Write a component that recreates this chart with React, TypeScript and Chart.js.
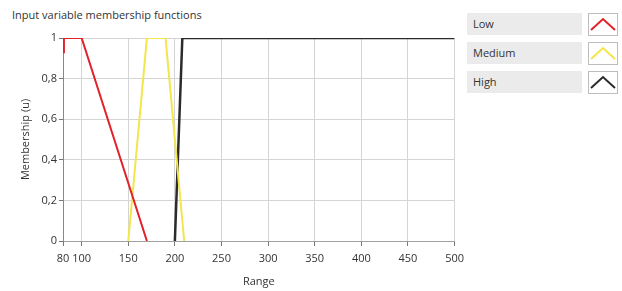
import React, { useEffect, useRef } from "react";
import { Chart, registerables } from "chart.js";

Chart.register(...registerables);

const xTicks = [80, 100, 150, 200, 250, 300, 350, 400, 450, 500];
const yTicks = [0, 0.2, 0.4, 0.6, 0.8, 1];

const seriesNames = ["Low", "Medium", "High"];
const seriesColors = ["#e3212b", "#f2e64a", "#2b2b2b"];

const lowX = [80, 81, 100, 170];
const lowY = [0.93, 1, 1, 0];
const mediumX = [150, 170, 190, 210];
const mediumY = [0, 1, 1, 0];
const highX = [200, 208, 500];
const highY = [0, 1, 1];

const FONT = "'Open Sans', 'DejaVu Sans', sans-serif";

function pts(xs: number[], ys: number[]) {
  return xs.map((x, i) => ({ x, y: ys[i] }));
}

function LegendIcon({ color }: { color: string }) {
  return (
    <svg width={30} height={23} style={{ display: "block" }}>
      <rect x={0.5} y={0.5} width={29} height={22} fill="#fff" stroke="#bdbdbd" />
      <polyline points="3,17 15,6 27,17" fill="none" stroke={color} strokeWidth={2} />
    </svg>
  );
}

export default function App() {
  const ref = useRef<HTMLCanvasElement | null>(null);

  useEffect(() => {
    if (!ref.current) return;
    const datasets = [
      pts(lowX, lowY),
      pts(mediumX, mediumY),
      pts(highX, highY),
    ].map((d, i) => ({
      label: seriesNames[i],
      data: d,
      borderColor: seriesColors[i],
      backgroundColor: seriesColors[i],
      borderWidth: i === 2 ? 2.5 : 2,
      pointRadius: 0,
      showLine: true,
      fill: false,
      tension: 0,
    }));

    const chart = new Chart(ref.current, {
      type: "scatter",
      data: { datasets },
      options: {
        animation: false,
        responsive: false,
        maintainAspectRatio: false,
        layout: { padding: { top: 38, right: 12, left: 0, bottom: 0 } },
        plugins: {
          legend: { display: false },
          tooltip: { enabled: false },
          title: { display: false },
        },
        scales: {
          x: {
            type: "linear",
            min: 80,
            max: 500,
            afterBuildTicks: (s: any) => {
              s.ticks = xTicks.map((v) => ({ value: v }));
            },
            afterFit: (s: any) => {
              s.height = 50;
            },
            ticks: {
              autoSkip: false,
              maxRotation: 0,
              color: "#333",
              font: { family: FONT, size: 11 },
              padding: 6,
            },
            grid: { color: "#d4d4d4", tickColor: "#777", tickLength: 5 },
            border: { color: "#a0a0a0" },
            title: {
              display: true,
              text: "Range",
              color: "#333",
              font: { family: FONT, size: 11 },
              padding: { top: 0, bottom: 3 },
            },
          },
          y: {
            type: "linear",
            min: 0,
            max: 1,
            afterBuildTicks: (s: any) => {
              s.ticks = yTicks.map((v) => ({ value: v }));
            },
            afterFit: (s: any) => {
              s.width = 63;
            },
            ticks: {
              color: "#333",
              font: { family: FONT, size: 11 },
              padding: 2,
              callback: (v: any) => {
                const n = Math.round(Number(v) * 10) / 10;
                return String(n).replace(".", ",");
              },
            },
            grid: { color: "#d4d4d4", tickColor: "#777", tickLength: 4 },
            border: { color: "#888" },
            title: {
              display: true,
              text: "Membership (u)",
              color: "#333",
              font: { family: FONT, size: 11 },
              padding: { top: 19, bottom: 0 },
            },
          },
        },
      },
    });
    return () => chart.destroy();
  }, []);

  return (
    <div
      style={{
        position: "fixed",
        left: 0,
        top: 0,
        width: 622,
        height: 291,
        background: "#fff",
        fontFamily: FONT,
      }}
    >
      <div
        style={{
          position: "absolute",
          left: 12,
          top: 7,
          fontSize: 11,
          color: "#333",
          whiteSpace: "nowrap",
        }}
      >
        Input variable membership functions
      </div>
      <canvas
        ref={ref}
        width={470}
        height={291}
        style={{ position: "absolute", left: 0, top: 0, width: 470, height: 291 }}
      />
      {seriesNames.map((name, i) => (
        <div key={name}>
          <div
            style={{
              position: "absolute",
              left: 467,
              top: 13 + i * 29,
              width: 115,
              height: 22,
              background: "#ebebeb",
              fontSize: 11,
              color: "#333",
              lineHeight: "22px",
              paddingLeft: 6,
              boxSizing: "border-box",
            }}
          >
            {name}
          </div>
          <div style={{ position: "absolute", left: 588, top: 13 + i * 29 }}>
            <LegendIcon color={seriesColors[i]} />
          </div>
        </div>
      ))}
    </div>
  );
}
